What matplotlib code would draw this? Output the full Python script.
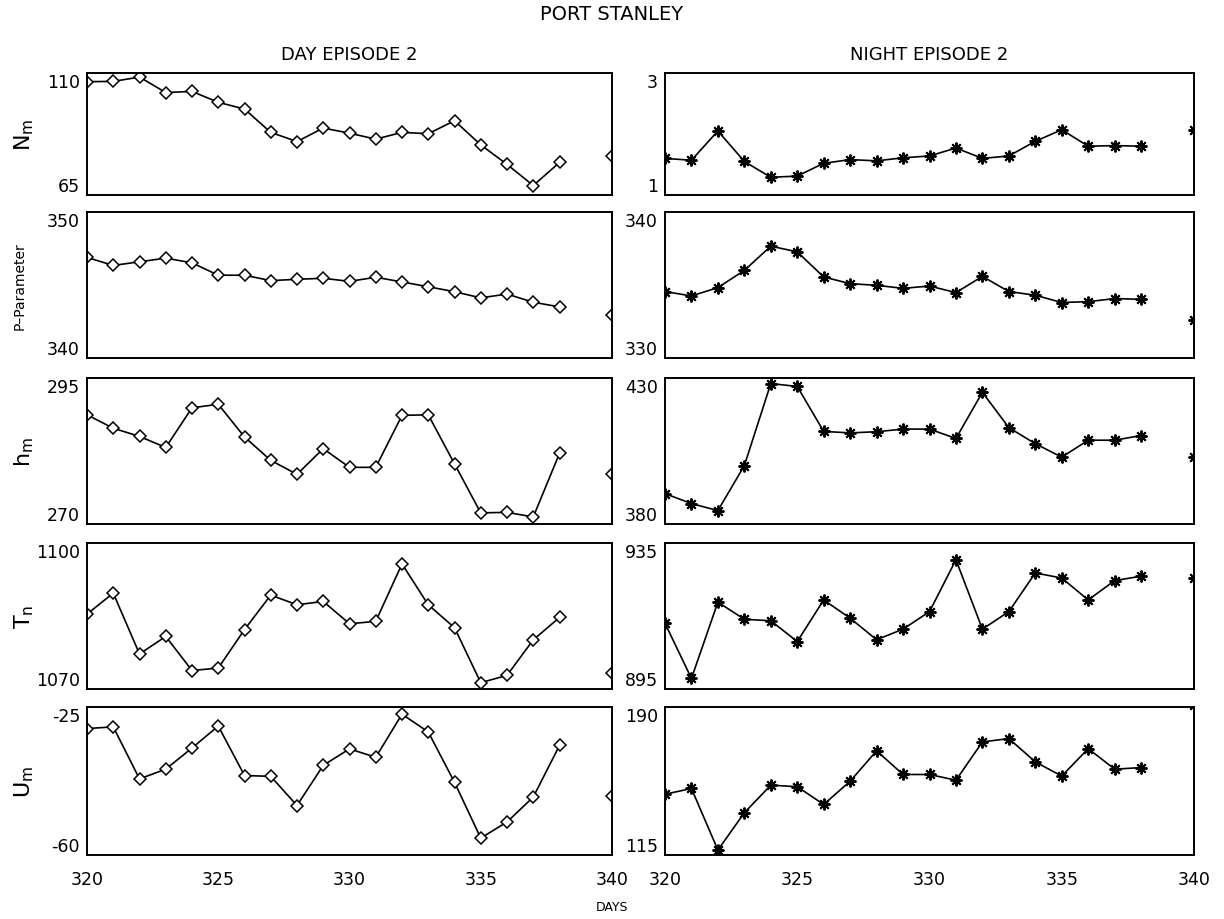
import numpy as np
import matplotlib
matplotlib.use("Agg")
import matplotlib.pyplot as plt

nan = np.nan

# Day of year (339 missing -> gap before the last sample)
days = [320, 321, 322, 323, 324, 325, 326, 327, 328, 329, 330,
        331, 332, 333, 334, 335, 336, 337, 338, 339, 340]

day_nm = [106.8, 106.9, 108.5, 102.8, 103.2, 99.2, 96.7, 88.1, 84.7, 89.7, 87.8,
          85.6, 88.1, 87.6, 92.4, 83.5, 76.3, 68.5, 77.0, nan, 79.4]
night_nm = [1.60, 1.57, 2.05, 1.55, 1.29, 1.31, 1.52, 1.58, 1.56, 1.61, 1.64,
            1.77, 1.60, 1.64, 1.88, 2.07, 1.80, 1.81, 1.80, nan, 2.07]

day_p = [346.89, 346.34, 346.59, 346.84, 346.52, 345.67, 345.67, 345.30, 345.39, 345.46, 345.25,
         345.53, 345.21, 344.88, 344.54, 344.12, 344.38, 343.82, 343.50, nan, 342.93]
night_p = [334.55, 334.25, 334.82, 336.00, 337.66, 337.27, 335.55, 335.09, 334.98, 334.77, 334.93,
           334.48, 335.59, 334.55, 334.30, 333.80, 333.86, 334.07, 334.02, nan, 332.59]

day_hm = [288.7, 286.4, 285.0, 283.1, 289.9, 290.5, 284.9, 280.9, 278.5, 282.9, 279.7,
          279.7, 288.6, 288.7, 280.3, 271.9, 272.0, 271.2, 282.1, nan, 278.6]
night_hm = [390.4, 387.0, 384.6, 400.0, 428.1, 427.1, 411.7, 411.2, 411.6, 412.5, 412.5,
            409.3, 425.1, 413.0, 407.5, 402.9, 408.7, 408.7, 410.3, nan, 402.9]

day_tn = [1085.4, 1089.7, 1077.2, 1080.8, 1073.8, 1074.3, 1082.2, 1089.3, 1087.3, 1088.0, 1083.4,
          1083.9, 1095.7, 1087.3, 1082.6, 1071.3, 1072.8, 1080.1, 1084.7, nan, 1073.2]
night_tn = [913.0, 897.9, 918.8, 914.1, 913.7, 908.0, 919.4, 914.4, 908.5, 911.4, 916.2,
            930.4, 911.4, 916.2, 926.8, 925.4, 919.4, 924.7, 925.9, nan, 925.4]

day_um = [-30.1, -29.7, -42.0, -39.7, -34.7, -29.5, -41.2, -41.4, -48.3, -38.8, -34.9,
          -36.9, -26.7, -30.9, -42.8, -56.0, -52.2, -46.3, -34.1, nan, -46.1]
night_um = [145.8, 148.7, 117.5, 136.4, 150.4, 149.6, 140.6, 152.4, 167.8, 155.8, 155.8,
            152.9, 172.3, 174.0, 162.2, 155.0, 168.9, 158.5, 159.3, nan, 191.0]

row_labels = [r"$\mathrm{N_m}$", "P\u2013Parameter", r"$\mathrm{h_m}$",
              r"$\mathrm{T_n}$", r"$\mathrm{U_m}$"]
day_ranges = [(65, 110), (340, 350), (270, 295), (1070, 1100), (-60, -25)]
night_ranges = [(1, 3), (330, 340), (380, 430), (895, 935), (115, 190)]
day_series = [day_nm, day_p, day_hm, day_tn, day_um]
night_series = [night_nm, night_p, night_hm, night_tn, night_um]
x_ticks = [320, 325, 330, 335, 340]

plt.rcParams["font.family"] = ["DejaVu Sans"]
plt.rcParams["mathtext.fontset"] = "dejavusans"

W, H = 1224, 920
fig = plt.figure(figsize=(W / 100, H / 100), dpi=100)

rows_px = [(74, 196), (213, 359), (379, 525), (544, 690), (708, 856)]
cols_px = [(87, 612), (665, 1194)]


def fmt(v):
    return str(int(v)).replace("\u2212", "-")


for i, (top, bot) in enumerate(rows_px):
    for j, (left, right) in enumerate(cols_px):
        ax = fig.add_axes([left / W, 1 - bot / H, (right - left) / W, (bot - top) / H])
        if j == 0:
            y = day_series[i]
            lo, hi = day_ranges[i]
            ax.plot(days, y, color="black", lw=1.2, marker="D", ms=5.8,
                    mfc="white", mec="black", mew=1.1)
        else:
            y = night_series[i]
            lo, hi = night_ranges[i]
            ax.plot(days, y, color="black", lw=1.2, marker=(8, 2, 0), ms=8.5,
                    mec="black", mew=1.4)
        ax.set_xlim(320, 340)
        ax.set_ylim(lo, hi)
        ax.set_yticks([lo, hi])
        ax.set_yticklabels([fmt(lo), fmt(hi)])
        ticks = ax.yaxis.get_major_ticks()
        ticks[0].label1.set_verticalalignment("bottom")
        ticks[1].label1.set_verticalalignment("top")
        ax.tick_params(axis="y", length=0, pad=5, labelsize=12.5)
        if i == len(rows_px) - 1:
            ax.set_xticks(x_ticks)
            ax.set_xticklabels([str(t) for t in x_ticks])
            ax.tick_params(axis="x", length=0, pad=11, labelsize=12.5)
        else:
            ax.set_xticks([])
        for s in ax.spines.values():
            s.set_linewidth(1.4)
        if j == 0:
            yc = 1 - (top + bot) / 2 / H
            if i == 1:
                fig.text(20 / W, yc, row_labels[i], rotation=90, ha="center",
                         va="center", fontsize=10)
            else:
                fig.text(24 / W, yc, row_labels[i], rotation=90, ha="center",
                         va="center", fontsize=16)

fig.text(0.5, 1 - 14 / H, "PORT STANLEY", ha="center", va="center", fontsize=14)
fig.text((87 + 612) / 2 / W, 1 - 55 / H, "DAY EPISODE 2", ha="center", va="center", fontsize=13)
fig.text((665 + 1194) / 2 / W, 1 - 55 / H, "NIGHT EPISODE 2", ha="center", va="center", fontsize=13)
fig.text(0.5, 1 - 908 / H, "DAYS", ha="center", va="center", fontsize=9)

fig.savefig("out.png", dpi=100)
